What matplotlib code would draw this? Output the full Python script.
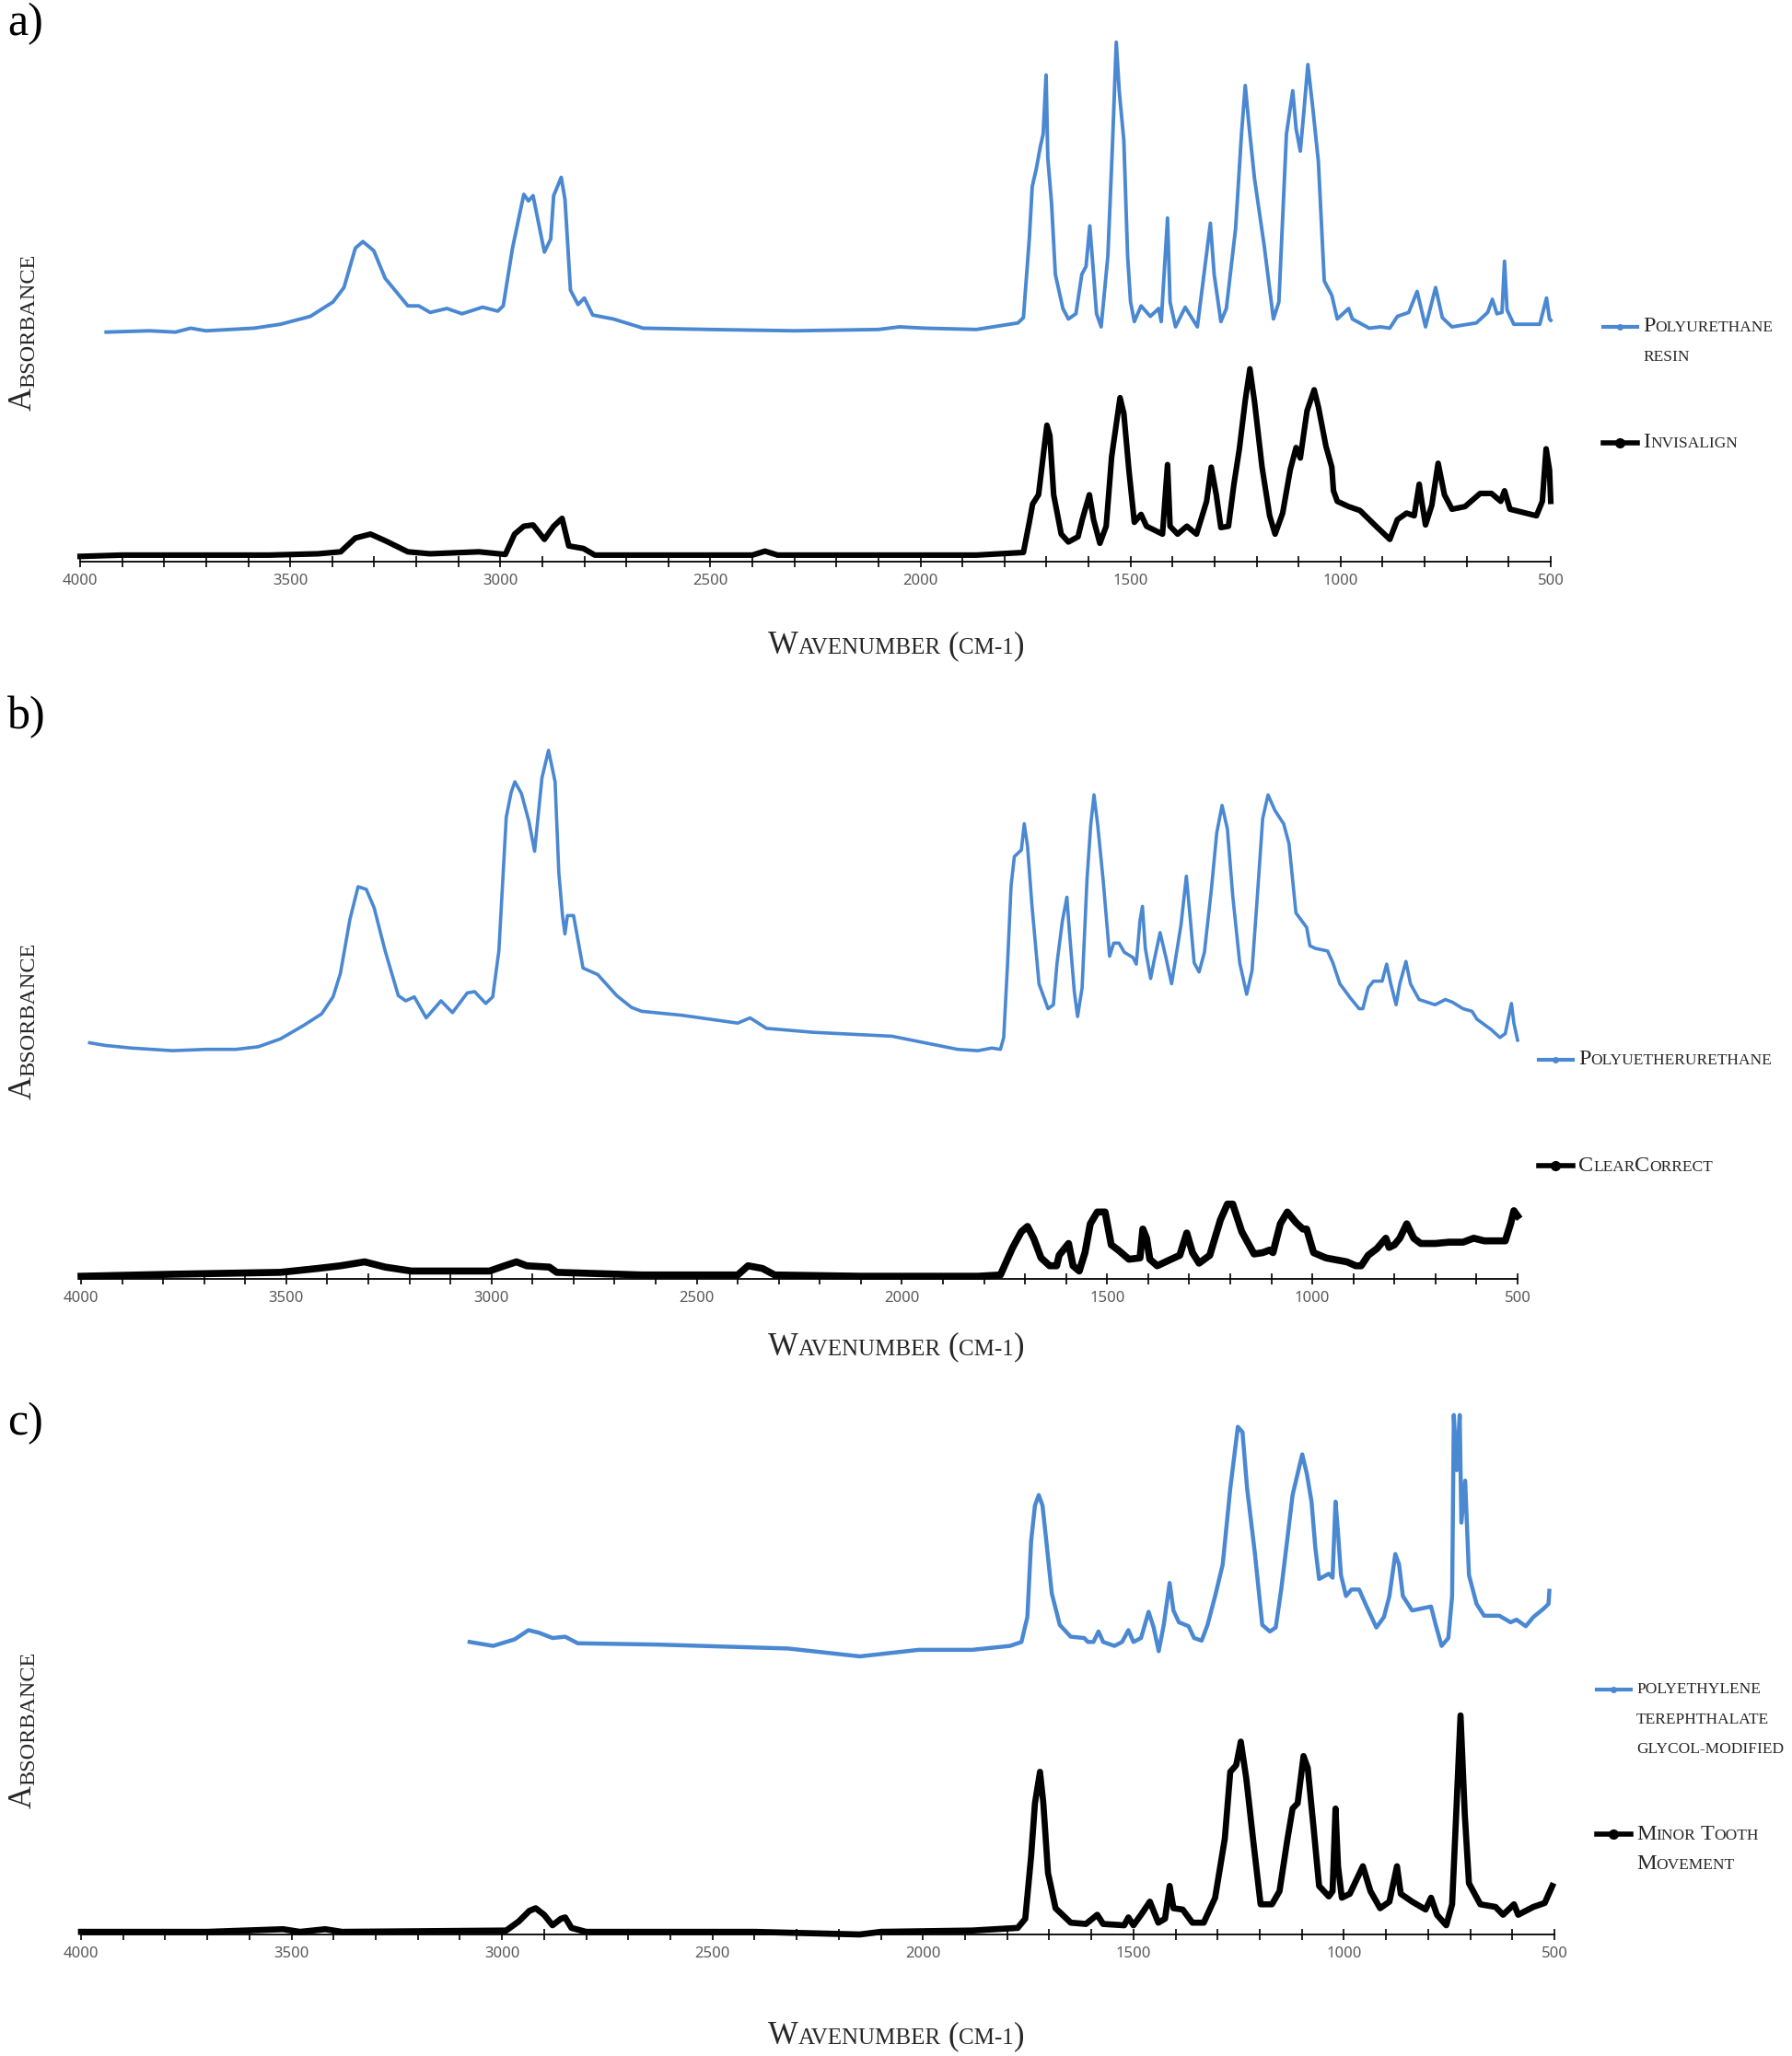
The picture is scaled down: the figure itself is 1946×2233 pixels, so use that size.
"""FTIR absorbance spectra of aligner materials versus reference polymers."""

import matplotlib
matplotlib.use('Agg')
import matplotlib.pyplot as plt
from matplotlib.lines import Line2D
from matplotlib.offsetbox import AnnotationBbox, HPacker, TextArea
from matplotlib.ticker import MultipleLocator

# (wavenumber in cm-1, absorbance in a.u.)
RESIN = [
    (3938, 1.75), (3835, 1.76), (3773, 1.75), (3737, 1.78), (3701, 1.76),
    (3586, 1.78), (3523, 1.81), (3452, 1.87), (3398, 1.98), (3372, 2.09),
    (3345, 2.39), (3327, 2.44), (3301, 2.37), (3274, 2.16), (3220, 1.95),
    (3194, 1.95), (3167, 1.90), (3127, 1.93), (3091, 1.89), (3042, 1.94),
    (3006, 1.91), (2993, 1.95), (2971, 2.39), (2944, 2.80), (2933, 2.75),
    (2922, 2.79), (2895, 2.36), (2880, 2.46), (2873, 2.79), (2855, 2.93),
    (2846, 2.76), (2833, 2.07), (2815, 1.96), (2800, 2.01), (2780, 1.88),
    (2731, 1.85), (2660, 1.78), (2500, 1.77), (2300, 1.76), (2100, 1.77),
    (2050, 1.79), (1990, 1.78), (1867, 1.77), (1768, 1.82), (1755, 1.86),
    (1741, 2.46), (1734, 2.86), (1724, 3.00), (1715, 3.16), (1708, 3.26),
    (1701, 3.71), (1697, 3.08), (1688, 2.73), (1679, 2.19), (1661, 1.93),
    (1648, 1.85), (1630, 1.89), (1616, 2.19), (1606, 2.25), (1597, 2.56),
    (1588, 2.19), (1581, 1.89), (1570, 1.79), (1554, 2.33), (1543, 3.18),
    (1534, 3.96), (1527, 3.59), (1516, 3.21), (1507, 2.33), (1500, 1.98),
    (1491, 1.83), (1475, 1.95), (1453, 1.87), (1433, 1.93), (1427, 1.83),
    (1412, 2.62), (1406, 1.98), (1393, 1.79), (1370, 1.94), (1341, 1.79),
    (1321, 2.30), (1310, 2.58), (1301, 2.19), (1285, 1.83), (1272, 1.93),
    (1250, 2.54), (1236, 3.26), (1227, 3.63), (1218, 3.32), (1205, 2.92),
    (1182, 2.41), (1160, 1.85), (1147, 1.98), (1129, 3.26), (1114, 3.59),
    (1106, 3.30), (1096, 3.13), (1087, 3.45), (1078, 3.79), (1066, 3.45),
    (1053, 3.05), (1039, 2.14), (1021, 2.03), (1008, 1.85), (981, 1.93),
    (972, 1.85), (932, 1.78), (905, 1.79), (883, 1.78), (865, 1.87),
    (838, 1.90), (818, 2.06), (798, 1.79), (774, 2.09), (758, 1.86),
    (735, 1.79), (677, 1.82), (650, 1.90), (639, 2.00), (628, 1.89),
    (616, 1.90), (610, 2.29), (604, 1.92), (588, 1.81), (526, 1.81),
    (510, 2.01), (503, 1.85), (500, 1.84),
]
INVISALIGN = [
    (4000, 0.04), (3900, 0.05), (3701, 0.05), (3550, 0.05), (3434, 0.06),
    (3380, 0.075), (3345, 0.18), (3309, 0.21), (3274, 0.16), (3220, 0.075),
    (3167, 0.06), (3051, 0.075), (2988, 0.055), (2966, 0.21), (2944, 0.27),
    (2922, 0.28), (2895, 0.17), (2873, 0.27), (2853, 0.33), (2837, 0.12),
    (2802, 0.10), (2775, 0.05), (2660, 0.05), (2400, 0.05), (2370, 0.08),
    (2340, 0.05), (2100, 0.05), (1867, 0.05), (1755, 0.07), (1741, 0.30),
    (1733, 0.44), (1719, 0.51), (1710, 0.75), (1699, 1.04), (1692, 0.96),
    (1683, 0.51), (1665, 0.21), (1648, 0.15), (1625, 0.19), (1615, 0.32),
    (1598, 0.51), (1588, 0.32), (1573, 0.14), (1558, 0.27), (1545, 0.80),
    (1525, 1.25), (1516, 1.13), (1504, 0.70), (1491, 0.30), (1475, 0.36),
    (1462, 0.27), (1424, 0.21), (1412, 0.74), (1406, 0.27), (1388, 0.21),
    (1366, 0.27), (1343, 0.21), (1319, 0.46), (1308, 0.72), (1296, 0.51),
    (1285, 0.26), (1267, 0.27), (1254, 0.59), (1241, 0.86), (1227, 1.23),
    (1216, 1.47), (1205, 1.22), (1187, 0.72), (1169, 0.35), (1156, 0.21),
    (1138, 0.37), (1120, 0.70), (1106, 0.87), (1096, 0.79), (1080, 1.15),
    (1063, 1.31), (1053, 1.18), (1035, 0.88), (1021, 0.72), (1017, 0.54),
    (1008, 0.46), (981, 0.42), (954, 0.39), (919, 0.28), (883, 0.17),
    (865, 0.32), (843, 0.37), (825, 0.35), (813, 0.59), (807, 0.46),
    (798, 0.28), (783, 0.43), (768, 0.75), (753, 0.51), (735, 0.40),
    (704, 0.42), (668, 0.52), (641, 0.52), (619, 0.46), (610, 0.54),
    (597, 0.40), (534, 0.35), (520, 0.46), (511, 0.86), (503, 0.70),
    (500, 0.46),
]
POLYETHERURETHANE = [
    (3979, 1.80), (3941, 1.78), (3877, 1.76), (3777, 1.74), (3695, 1.75),
    (3623, 1.75), (3568, 1.77), (3514, 1.83), (3459, 1.93), (3414, 2.02),
    (3386, 2.15), (3368, 2.33), (3345, 2.74), (3325, 2.99), (3305, 2.97),
    (3286, 2.83), (3259, 2.50), (3227, 2.16), (3209, 2.12), (3188, 2.15),
    (3159, 1.99), (3123, 2.12), (3095, 2.03), (3059, 2.18), (3041, 2.19),
    (3014, 2.10), (2997, 2.15), (2982, 2.50), (2964, 3.52), (2952, 3.71),
    (2943, 3.79), (2927, 3.70), (2909, 3.49), (2895, 3.26), (2877, 3.82),
    (2861, 4.03), (2845, 3.79), (2836, 3.10), (2827, 2.77), (2821, 2.63),
    (2815, 2.77), (2800, 2.77), (2777, 2.37), (2741, 2.32), (2695, 2.16),
    (2659, 2.07), (2634, 2.04), (2536, 2.01), (2400, 1.95), (2370, 1.99),
    (2330, 1.91), (2216, 1.88), (2024, 1.85), (1912, 1.78), (1864, 1.75),
    (1815, 1.74), (1781, 1.76), (1760, 1.75), (1752, 1.84), (1743, 2.38),
    (1734, 3.00), (1726, 3.22), (1709, 3.27), (1702, 3.47), (1694, 3.30),
    (1683, 2.84), (1666, 2.25), (1644, 2.06), (1631, 2.09), (1622, 2.41),
    (1609, 2.73), (1598, 2.91), (1592, 2.65), (1580, 2.19), (1572, 2.00),
    (1561, 2.22), (1549, 3.05), (1540, 3.46), (1532, 3.69), (1523, 3.46),
    (1510, 3.05), (1497, 2.57), (1494, 2.46), (1484, 2.56), (1471, 2.56),
    (1458, 2.49), (1437, 2.45), (1429, 2.40), (1420, 2.73), (1414, 2.84),
    (1407, 2.52), (1394, 2.29), (1386, 2.42), (1371, 2.64), (1356, 2.44),
    (1343, 2.25), (1320, 2.70), (1307, 3.07), (1297, 2.73), (1288, 2.41),
    (1276, 2.34), (1263, 2.49), (1246, 2.97), (1233, 3.40), (1220, 3.61),
    (1207, 3.43), (1194, 2.92), (1177, 2.41), (1160, 2.17), (1147, 2.35),
    (1134, 2.92), (1121, 3.51), (1108, 3.69), (1091, 3.57), (1070, 3.47),
    (1057, 3.32), (1040, 2.79), (1014, 2.68), (1006, 2.54), (993, 2.52),
    (963, 2.50), (950, 2.41), (933, 2.25), (907, 2.14), (886, 2.06),
    (877, 2.06), (864, 2.22), (851, 2.27), (830, 2.27), (819, 2.40),
    (809, 2.25), (796, 2.09), (787, 2.25), (772, 2.42), (761, 2.25),
    (740, 2.13), (701, 2.09), (676, 2.13), (659, 2.11), (633, 2.06),
    (611, 2.04), (599, 1.98), (564, 1.90), (543, 1.84), (530, 1.87),
    (515, 2.10), (509, 1.95), (500, 1.82),
]
CLEARCORRECT = [
    (4000, 0.02), (3786, 0.035), (3514, 0.05), (3423, 0.08), (3368, 0.10),
    (3309, 0.13), (3259, 0.09), (3195, 0.06), (3005, 0.06), (2968, 0.10),
    (2939, 0.13), (2914, 0.10), (2859, 0.09), (2841, 0.05), (2634, 0.03),
    (2400, 0.03), (2375, 0.10), (2340, 0.08), (2310, 0.03), (2100, 0.02),
    (1815, 0.02), (1760, 0.03), (1743, 0.15), (1730, 0.24), (1709, 0.36),
    (1694, 0.40), (1679, 0.31), (1661, 0.16), (1640, 0.10), (1623, 0.10),
    (1617, 0.18), (1594, 0.27), (1583, 0.10), (1568, 0.06), (1554, 0.20),
    (1541, 0.42), (1524, 0.51), (1505, 0.51), (1490, 0.26), (1473, 0.22),
    (1447, 0.15), (1420, 0.16), (1413, 0.38), (1404, 0.31), (1396, 0.15),
    (1378, 0.10), (1344, 0.15), (1323, 0.18), (1306, 0.35), (1292, 0.20),
    (1276, 0.12), (1250, 0.18), (1224, 0.45), (1207, 0.57), (1194, 0.57),
    (1172, 0.36), (1142, 0.19), (1121, 0.20), (1104, 0.22), (1096, 0.20),
    (1078, 0.42), (1061, 0.51), (1040, 0.43), (1023, 0.38), (1014, 0.38),
    (997, 0.20), (967, 0.16), (916, 0.13), (894, 0.10), (881, 0.10),
    (864, 0.18), (843, 0.23), (821, 0.31), (813, 0.24), (800, 0.26),
    (787, 0.31), (770, 0.42), (753, 0.31), (736, 0.27), (701, 0.27),
    (667, 0.28), (633, 0.28), (607, 0.31), (581, 0.29), (530, 0.29),
    (517, 0.42), (509, 0.52), (500, 0.48),
]
PETG = [
    (3077, 2.23), (3021, 2.20), (2970, 2.25), (2937, 2.32), (2912, 2.30),
    (2880, 2.26), (2850, 2.27), (2820, 2.22), (2630, 2.21), (2320, 2.18),
    (2150, 2.12), (2010, 2.17), (1883, 2.17), (1793, 2.20), (1766, 2.23),
    (1752, 2.42), (1743, 3.00), (1734, 3.27), (1725, 3.35), (1716, 3.27),
    (1707, 3.00), (1694, 2.60), (1675, 2.36), (1649, 2.27), (1617, 2.26),
    (1608, 2.23), (1595, 2.23), (1583, 2.31), (1572, 2.23), (1545, 2.20),
    (1527, 2.23), (1512, 2.32), (1500, 2.23), (1482, 2.26), (1464, 2.46),
    (1452, 2.34), (1440, 2.16), (1428, 2.36), (1414, 2.68), (1405, 2.47),
    (1392, 2.38), (1369, 2.35), (1356, 2.26), (1338, 2.24), (1324, 2.36),
    (1306, 2.58), (1288, 2.82), (1270, 3.40), (1252, 3.87), (1241, 3.83),
    (1230, 3.40), (1212, 2.92), (1194, 2.36), (1176, 2.31), (1162, 2.34),
    (1149, 2.63), (1135, 3.00), (1122, 3.35), (1108, 3.54), (1099, 3.66),
    (1088, 3.51), (1077, 3.30), (1068, 2.95), (1059, 2.71), (1036, 2.75),
    (1027, 2.72), (1020, 3.30), (1014, 3.06), (1007, 2.74), (995, 2.58),
    (982, 2.63), (964, 2.63), (946, 2.50), (923, 2.34), (905, 2.42),
    (892, 2.58), (878, 2.90), (869, 2.82), (860, 2.58), (838, 2.47),
    (793, 2.50), (782, 2.36), (768, 2.20), (752, 2.26), (743, 2.58),
    (739, 3.96), (732, 3.54), (725, 3.96), (721, 3.14), (712, 3.46),
    (703, 2.74), (685, 2.52), (667, 2.43), (631, 2.43), (604, 2.38),
    (590, 2.40), (568, 2.35), (550, 2.42), (527, 2.48), (514, 2.52),
    (512, 2.62),
]
MINOR_TOOTH = [
    (4000, 0.02), (3700, 0.02), (3520, 0.04), (3480, 0.02), (3420, 0.04),
    (3380, 0.02), (2990, 0.03), (2960, 0.10), (2935, 0.18), (2920, 0.20),
    (2900, 0.15), (2880, 0.07), (2860, 0.12), (2850, 0.13), (2835, 0.05),
    (2800, 0.02), (2400, 0.02), (2150, 0.00), (2100, 0.02), (1883, 0.03),
    (1775, 0.05), (1757, 0.12), (1743, 0.60), (1734, 1.00), (1722, 1.24),
    (1714, 1.00), (1703, 0.47), (1685, 0.20), (1649, 0.09), (1613, 0.08),
    (1586, 0.15), (1572, 0.08), (1522, 0.07), (1512, 0.13), (1500, 0.07),
    (1482, 0.15), (1461, 0.25), (1441, 0.09), (1425, 0.12), (1414, 0.37),
    (1405, 0.20), (1383, 0.19), (1360, 0.09), (1333, 0.09), (1306, 0.28),
    (1283, 0.73), (1270, 1.24), (1256, 1.29), (1245, 1.47), (1232, 1.19),
    (1216, 0.73), (1198, 0.23), (1171, 0.23), (1153, 0.33), (1135, 0.71),
    (1122, 0.96), (1110, 1.00), (1096, 1.36), (1086, 1.27), (1072, 0.81),
    (1059, 0.37), (1036, 0.29), (1027, 0.33), (1020, 0.96), (1014, 0.52),
    (1005, 0.28), (986, 0.31), (955, 0.52), (937, 0.33), (914, 0.20),
    (892, 0.25), (874, 0.52), (865, 0.31), (838, 0.25), (806, 0.19),
    (793, 0.28), (779, 0.15), (757, 0.07), (743, 0.23), (734, 0.87),
    (723, 1.67), (713, 0.92), (703, 0.39), (676, 0.23), (640, 0.21),
    (622, 0.15), (596, 0.23), (586, 0.15), (550, 0.21), (523, 0.24),
    (505, 0.37),
]

PANEL_LABELS = ['a)', 'b)', 'c)']
BLUE_LABELS = [['Polyurethane', 'resin'], ['Polyuetherurethane'],
               ['polyethylene', 'terephthalate', 'glycol-modified']]
BLACK_LABELS = [['Invisalign'], ['ClearCorrect'], ['Minor Tooth', 'Movement']]
XLABEL = 'Wavenumber (cm-1)'
YLABEL = 'Absorbance'

W, H = 1946, 2233
BLUE = '#4a88d2'
INK = '#262626'
SERIF = 'Liberation Serif'


def smallcaps(text, big, small):
    """Fake small capitals: lower case letters become smaller capitals."""
    words = []
    for word in text.split():
        runs = []
        for ch in word:
            low = not (ch.isupper() or ch in '()')
            if runs and runs[-1][1] == low:
                runs[-1][0] += ch.upper()
            else:
                runs.append([ch.upper(), low])
        words.append(HPacker(children=[
            TextArea(t, textprops=dict(size=small if low else big,
                                       family=SERIF, color=INK))
            for t, low in runs], align='baseline', pad=0, sep=0))
    return HPacker(children=words, align='baseline', pad=0, sep=0.3*small)


def place(fig, box, x, y, align=(0, 0.5)):
    """Put an offset box at pixel position counted from the top left."""
    fig.add_artist(AnnotationBbox(box, (x, H-y), xycoords='figure pixels',
                                  box_alignment=align, frameon=False, pad=0))


def main():
    """Main program called during execution."""

    fig = plt.figure(figsize=(W/100, H/100), dpi=100)

    # pixel layout of each panel: x of 4000, x of 500, y of axis line
    frames = [(87, 1684, 610), (88, 1648, 1389), (88, 1688, 2101)]
    blues = [RESIN, POLYETHERURETHANE, PETG]
    blacks = [INVISALIGN, CLEARCORRECT, MINOR_TOOTH]
    widths = [(2.8, 4.4), (2.6, 5.5), (3.2, 4.8)]
    letter_y = [26, 779, 1546]
    xlabel_y = [702, 1463, 2212]
    ylabel_y = [360, 1108, 1878]
    legend_x = [1741, 1671, 1734]
    legend_y = [(355, 481), (1151, 1266), (1835, 1992)]
    top = 4.2
    unit = 142.46  # pixels per absorbance unit

    for i in range(3):
        x0, x1, y0 = frames[i]
        ax = fig.add_axes([x0/W, (H-y0)/H, (x1-x0)/W, top*unit/H])

        # spectra
        for data, color, lw in [(blues[i], BLUE, widths[i][0]),
                                (blacks[i], 'k', widths[i][1])]:
            wn, ab = zip(*data)
            ax.plot(wn, ab, color=color, lw=lw, clip_on=False, zorder=3,
                    solid_joinstyle='round')

        # axes
        ax.set_xlim(4000, 500)
        ax.set_ylim(0, top)
        ax.set_yticks([])
        for side in ['left', 'right', 'top']:
            ax.spines[side].set_visible(False)
        ax.spines['bottom'].set_linewidth(1.3)
        ax.xaxis.set_major_locator(MultipleLocator(500))
        ax.xaxis.set_minor_locator(MultipleLocator(100))
        ax.tick_params(axis='x', which='both', direction='inout', length=9,
                       width=1.2, pad=5, labelsize=12, labelcolor='#595959')
        for label in ax.get_xticklabels():
            label.set_family('Noto Sans')

        # panel letter and axis titles
        fig.text(8/W, 1-letter_y[i]/H, PANEL_LABELS[i], family=SERIF,
                 size=36, va='center', ha='left', color='k')
        place(fig, smallcaps(XLABEL, 25, 18), 973, xlabel_y[i],
              align=(0.5, 0.5))
        first = ax.annotate(YLABEL[0], xy=(42, H-(ylabel_y[i]+86)),
                            xycoords='figure pixels', rotation=90, ha='right',
                            va='bottom', size=25, family=SERIF, color=INK,
                            annotation_clip=False)
        ax.annotate(YLABEL[1:].upper(), xy=(1, 1), xycoords=first,
                    rotation=90, ha='right', va='bottom', size=17.5,
                    family=SERIF, color=INK, annotation_clip=False)

        # legend entries
        lx = legend_x[i]
        for labels, color, lw, ms, ly in [
                (BLUE_LABELS[i], BLUE, 3, 4, legend_y[i][0]),
                (BLACK_LABELS[i], 'k', 4, 7, legend_y[i][1])]:
            fig.add_artist(Line2D(
                [lx/W, (lx+18)/W, (lx+37)/W], [1-ly/H]*3, color=color, lw=lw,
                marker='o', ms=ms, markevery=[1], transform=fig.transFigure))
            for j, line in enumerate(labels):
                place(fig, smallcaps(line, 17.5, 12.5), lx+43, ly+j*32.5)

    fig.savefig('out.png', dpi=100)


if __name__ == '__main__':
    main()
